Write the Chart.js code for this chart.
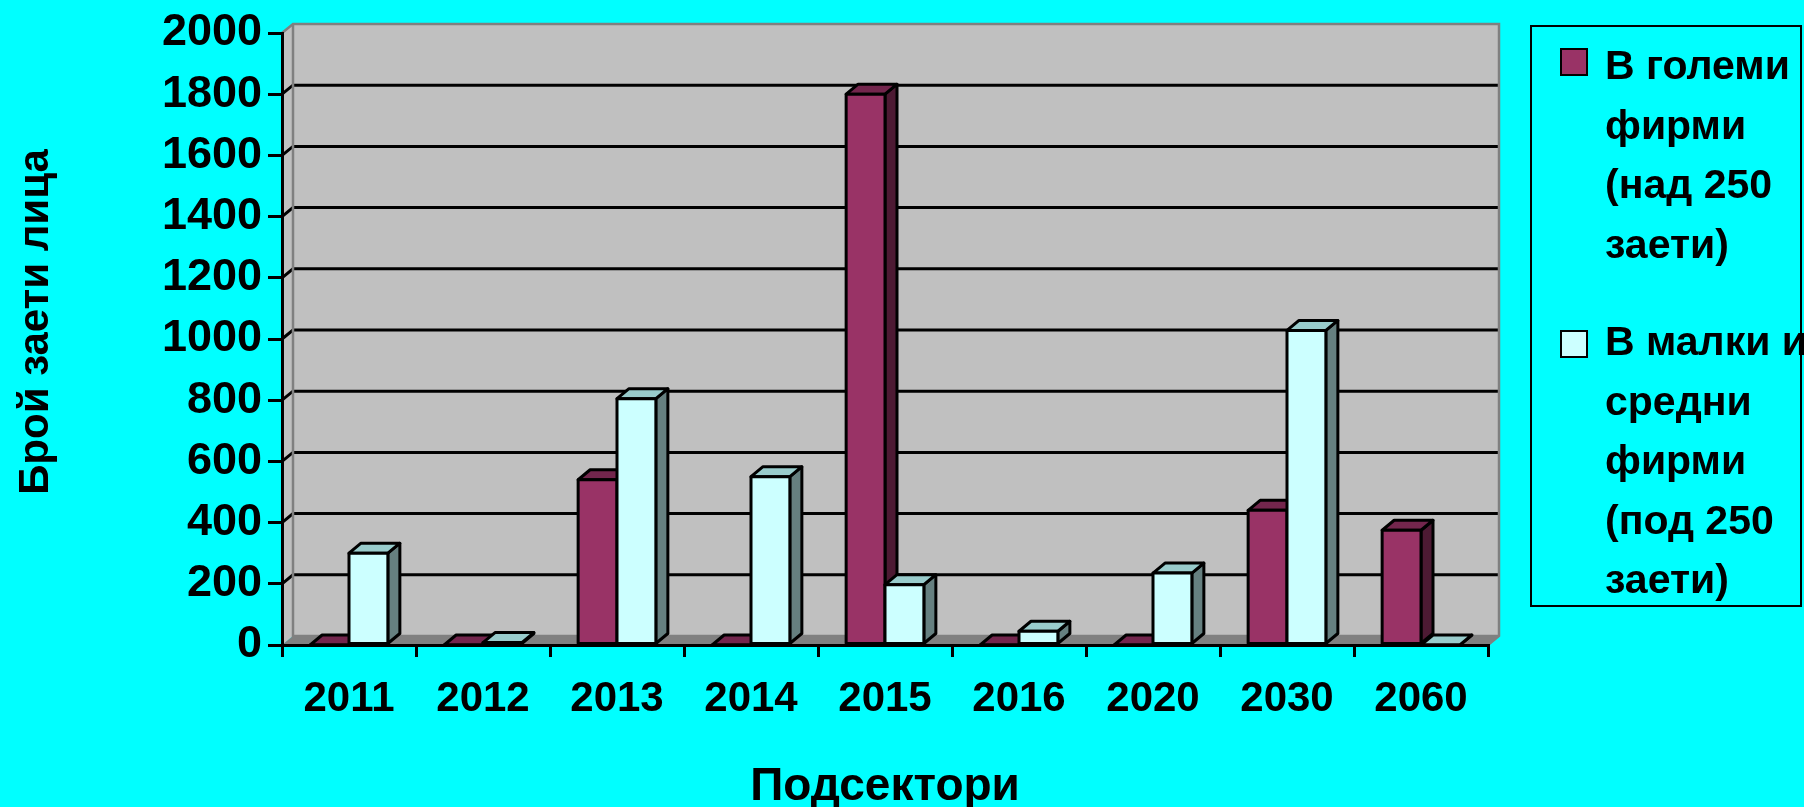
<!DOCTYPE html>
<html lang="bg">

<head>
    <meta charset="UTF-8">
    <title>Брой заети лица по подсектори</title>
    <script src="https://cdn.jsdelivr.net/npm/chart.js"></script>
    <style>
        html, body { margin: 0; padding: 0; background: #00FFFF; }
        body { width: 1804px; height: 807px; position: relative; overflow: hidden;
               font-family: "Liberation Sans", Arial, sans-serif; }
        #area { position: absolute; left: 0; top: 0; width: 1804px; height: 807px; }
        #legenda { position: absolute; left: 1530px; top: 25px; width: 272px; height: 582px;
                   border: 2px solid #000; box-sizing: border-box; }
        .quadrado { position: absolute; left: 28px; width: 28px; height: 28px;
                    border: 2px solid #000; box-sizing: border-box; }
        .texto { position: absolute; left: 73px; font-weight: bold; font-size: 41px;
                 line-height: 59.5px; white-space: nowrap; color: #000; }
    </style>
</head>

<body>
    <div id="area"><canvas id="grafico"></canvas></div>
    <div id="legenda"></div>

<script>
    // dados
    const categorias = ['2011', '2012', '2013', '2014', '2015', '2016', '2020', '2030', '2060'];
    const grandesFirmas = [0, 0, 540, 0, 1800, 0, 0, 440, 375];
    const pequenasFirmas = [300, 8, 805, 550, 197, 45, 235, 1028, 0];
    const nomesSeries = ['В големи фирми (над 250 заети)', 'В малки и средни фирми (под 250 заети)'];
    const linhasLegenda = [
        ['В големи', 'фирми', '(над 250', 'заети)'],
        ['В малки и', 'средни', 'фирми', '(под 250', 'заети)']
    ];
    const tituloY = 'Брой заети лица';
    const tituloX = 'Подсектори';
    const eixoMin = 0;
    const eixoMax = 2000;
    const passoEixo = 200;

    const fonte = '"Liberation Sans", Arial, sans-serif';

    // cores: frente, topo, lado
    const coresFaces = [
        { frente: '#993366', topo: '#73264D', lado: '#4D1A33' },
        { frente: '#CCFFFF', topo: '#99CCCC', lado: '#668080' }
    ];

    function face(ctx, pontos, cor) {
        ctx.beginPath();
        ctx.moveTo(pontos[0][0], pontos[0][1]);
        for (let i = 1; i < pontos.length; i++) ctx.lineTo(pontos[i][0], pontos[i][1]);
        ctx.closePath();
        ctx.fillStyle = cor;
        ctx.fill();
        ctx.stroke();
    }

    // paredes, chao e barras com efeito 3D
    const efeito3d = {
        id: 'efeito3d',
        beforeDatasetsDraw(chart) {
            const { ctx, chartArea: a, scales: { y } } = chart;
            const dx = 11, dy = -9;
            ctx.save();
            ctx.fillStyle = '#C0C0C0';
            ctx.fillRect(a.left + dx, a.top + dy, a.right - a.left, a.bottom - a.top);
            ctx.beginPath();
            ctx.moveTo(a.left, a.top);
            ctx.lineTo(a.left + dx, a.top + dy);
            ctx.lineTo(a.left + dx, a.bottom + dy);
            ctx.lineTo(a.left, a.bottom);
            ctx.closePath();
            ctx.fill();

            ctx.fillStyle = '#808080';
            ctx.beginPath();
            ctx.moveTo(a.left, a.bottom);
            ctx.lineTo(a.left + dx, a.bottom + dy);
            ctx.lineTo(a.right + dx, a.bottom + dy);
            ctx.lineTo(a.right, a.bottom);
            ctx.closePath();
            ctx.fill();

            // linhas de grade na parede do fundo
            ctx.strokeStyle = '#000';
            ctx.lineWidth = 3;
            y.ticks.forEach(t => {
                if (t.value <= eixoMin || t.value >= eixoMax) return;
                const py = y.getPixelForValue(t.value);
                ctx.beginPath();
                ctx.moveTo(a.left, py);
                ctx.lineTo(a.left + dx, py + dy);
                ctx.lineTo(a.right + dx, py + dy);
                ctx.stroke();
            });

            ctx.strokeStyle = '#808080';
            ctx.lineWidth = 2.5;
            ctx.beginPath();
            ctx.moveTo(a.left, a.top);
            ctx.lineTo(a.left + dx, a.top + dy);
            ctx.lineTo(a.right + dx, a.top + dy);
            ctx.lineTo(a.right + dx, a.bottom + dy);
            ctx.lineTo(a.right, a.bottom);
            ctx.stroke();
            ctx.beginPath();
            ctx.moveTo(a.left + dx, a.top + dy);
            ctx.lineTo(a.left + dx, a.bottom + dy);
            ctx.lineTo(a.right + dx, a.bottom + dy);
            ctx.stroke();
            ctx.restore();
        },
        afterDatasetsDraw(chart) {
            const ctx = chart.ctx;
            const dx = 12, dy = -10;
            ctx.save();
            ctx.lineWidth = 3;
            ctx.strokeStyle = '#000';
            ctx.lineJoin = 'round';
            for (let i = 0; i < chart.data.labels.length; i++) {
                chart.data.datasets.forEach((ds, d) => {
                    const barra = chart.getDatasetMeta(d).data[i];
                    const { x, y, base, width } = barra.getProps(['x', 'y', 'base', 'width'], true);
                    const x0 = x - width / 2, x1 = x + width / 2;
                    const topo = Math.min(y, base), fundo = Math.max(y, base);
                    const c = coresFaces[d];
                    face(ctx, [[x1, fundo], [x1 + dx, fundo + dy], [x1 + dx, topo + dy], [x1, topo]], c.lado);
                    face(ctx, [[x0, topo], [x0 + dx, topo + dy], [x1 + dx, topo + dy], [x1, topo]], c.topo);
                    face(ctx, [[x0, topo], [x1, topo], [x1, fundo], [x0, fundo]], c.frente);
                });
            }
            ctx.restore();
        },
        afterDraw(chart) {
            // titulo do eixo Y, um pouco acima do centro como no original
            const ctx = chart.ctx;
            ctx.save();
            ctx.translate(36, 322);
            ctx.rotate(-Math.PI / 2);
            ctx.font = 'bold 42px ' + fonte;
            ctx.fillStyle = '#000';
            ctx.textAlign = 'center';
            ctx.textBaseline = 'middle';
            ctx.fillText(tituloY, 0, 0);
            ctx.restore();
        }
    };

    const dados = {
        labels: categorias,
        datasets: [{
            label: nomesSeries[0],
            data: grandesFirmas,
            backgroundColor: coresFaces[0].frente,
            borderWidth: 0,
            categoryPercentage: 0.58,
            barPercentage: 1.0
        },
        {
            label: nomesSeries[1],
            data: pequenasFirmas,
            backgroundColor: coresFaces[1].frente,
            borderWidth: 0,
            categoryPercentage: 0.58,
            barPercentage: 1.0
        }]
    };

    const config = {
        type: 'bar',
        data: dados,
        options: {
            responsive: true,
            maintainAspectRatio: false,
            animation: false,
            layout: { padding: { top: 32, right: 316, bottom: 0, left: 0 } },
            plugins: {
                legend: { display: false },
                tooltip: { enabled: false }
            },
            scales: {
                x: {
                    offset: true,
                    grid: { drawOnChartArea: false, drawTicks: true, tickLength: 12, color: '#000', lineWidth: 3, offset: true },
                    border: { display: true, color: '#000', width: 3, z: 1 },
                    ticks: { color: '#000', font: { family: fonte, size: 42, weight: 'bold' }, padding: 17, maxRotation: 0, autoSkip: false },
                    title: {
                        display: true, text: tituloX, color: '#000',
                        font: { family: fonte, size: 46, weight: 'bold' },
                        padding: { top: 0, bottom: -8 }
                    },
                    afterFit(scale) { scale.height = 162; }
                },
                y: {
                    min: eixoMin,
                    max: eixoMax,
                    grid: { drawOnChartArea: false, drawTicks: true, tickLength: 14, color: '#000', lineWidth: 3 },
                    border: { display: true, color: '#000', width: 3, z: 1 },
                    ticks: {
                        stepSize: passoEixo, color: '#000', padding: 6,
                        font: { family: fonte, size: 45, weight: 'bold' },
                        callback: (valor) => String(valor)
                    },
                    afterFit(scale) { scale.width = 282; }
                }
            }
        },
        plugins: [efeito3d]
    };

    new Chart(document.getElementById('grafico'), config);

    // legenda em html (texto quebrado como no original)
    const legenda = document.getElementById('legenda');
    const topos = [[21, 9], [303, 285]];
    linhasLegenda.forEach((linhas, i) => {
        legenda.innerHTML += `
            <div class="quadrado" style="top:${topos[i][0]}px; background:${coresFaces[i].frente}"></div>
            <div class="texto" style="top:${topos[i][1]}px">${linhas.join('<br>')}</div>`;
    });
</script>

</body>

</html>
